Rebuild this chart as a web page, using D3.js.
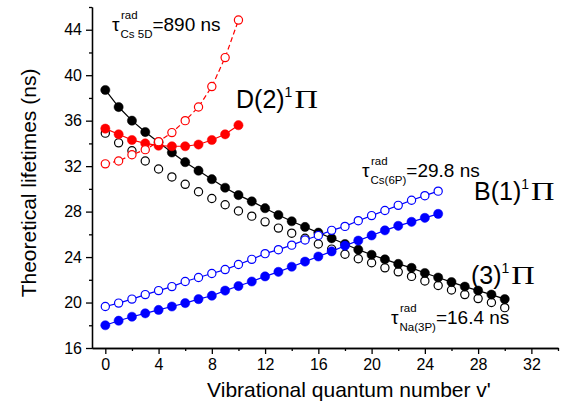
<!DOCTYPE html>
<html>
<head>
<meta charset="utf-8">
<script src="https://cdn.jsdelivr.net/npm/d3@7"></script>
<style>
  body { margin: 0; background: #fff; }
  svg { display: block; font-family: "Liberation Sans", Arial, sans-serif; }
  .axis path, .axis line { stroke: #000; stroke-width: 1.3; }
  .axis text { font-size: 16px; fill: #000; font-family: "Liberation Sans", Arial, sans-serif; }
</style>
</head>
<body>
<div id="chart"></div>
<script>
// (3)1Pi state, filled = this work, open = other
const pi3Filled = [38.7, 37.2, 36.0, 35.0, 34.1, 33.2, 32.35, 31.6, 30.85, 30.1, 29.45, 28.9, 28.3, 27.7, 27.15, 26.65,
	26.15, 25.65, 25.15, 24.65, 24.2, 23.8, 23.4, 23.05, 22.6, 22.2, 21.8, 21.4, 21.05, 20.7, 20.3];
const pi3Open = [34.9, 34.05, 33.35, 32.45, 31.75, 31.05, 30.4, 29.75, 29.15, 28.6, 28.05, 27.6, 27.1, 26.55, 26.1, 25.65,
	25.15, 24.7, 24.25, 23.85, 23.5, 23.05, 22.7, 22.3, 21.9, 21.5, 21.1, 20.7, 20.35, 20.0, 19.55];
// B(1)1Pi
const b1Filled = [18.0, 18.4, 18.75, 19.05, 19.35, 19.65, 19.95, 20.3, 20.6, 21.05, 21.45, 21.85, 22.3, 22.7, 23.15,
	23.6, 24.05, 24.5, 25.0, 25.45, 25.9, 26.35, 26.75, 27.1, 27.45, 27.8];
const b1Open = [19.65, 19.95, 20.3, 20.7, 21.05, 21.4, 21.85, 22.2, 22.55, 22.9, 23.35, 23.8, 24.3, 24.65, 25.05,
	25.5, 25.9, 26.35, 26.7, 27.2, 27.65, 28.1, 28.55, 29.0, 29.4, 29.8];
// D(2)1Pi
const d2Filled = [35.3, 34.8, 34.3, 34.0, 33.8, 33.75, 33.75, 33.9, 34.3, 34.8, 35.6];
const d2Open = [32.2, 32.45, 33.0, 33.45, 34.15, 34.95, 36.0, 37.2, 39.0, 41.55, 44.85];

const xTicks = [0, 4, 8, 12, 16, 20, 24, 28, 32];
const yTicks = [16, 20, 24, 28, 32, 36, 40, 44];

const W = 566, H = 413;
let margin = {top: 7, right: 8, bottom: 65, left: 92}
, width = W - margin.left - margin.right
, height = H - margin.top - margin.bottom;

let xScale = d3.scaleLinear().domain([-1, 34]).range([0, width]);
let yScale = d3.scaleLinear().domain([16, 46]).range([height, 0]);

let svg = d3.select("#chart").append("svg")
	.attr("width", W)
	.attr("height", H)
	.append("g")
	.attr("transform", "translate(" + margin.left + "," + margin.top + ")");

// axes: major ticks with labels, minor ticks without
svg.append("g")
	.attr("class", "x axis")
	.attr("transform", "translate(0," + height + ")")
	.call(d3.axisBottom(xScale).tickValues(d3.range(2, 35, 4)).tickSize(3).tickFormat("").tickSizeOuter(0));
svg.append("g")
	.attr("class", "x axis")
	.attr("transform", "translate(0," + height + ")")
	.call(d3.axisBottom(xScale).tickValues(xTicks).tickSize(6).tickPadding(5).tickSizeOuter(0));

svg.append("g")
	.attr("class", "y axis")
	.call(d3.axisLeft(yScale).tickValues(d3.range(18, 47, 4)).tickSize(3).tickFormat("").tickSizeOuter(0));
svg.append("g")
	.attr("class", "y axis")
	.call(d3.axisLeft(yScale).tickValues(yTicks).tickSize(6).tickPadding(4).tickSizeOuter(0));

// axis titles
svg.append("text")
	.attr("x", 349 - margin.left)
	.attr("y", 397 - margin.top)
	.attr("text-anchor", "middle")
	.style("font-size", "21px")
	.text("Vibrational quantum number v'");

svg.append("text")
	.attr("transform", "translate(" + (36 - margin.left) + "," + (183 - margin.top) + ") rotate(-90)")
	.attr("text-anchor", "middle")
	.style("font-size", "21px")
	.text("Theoretical lifetimes (ns)");

function toPoints(arr) {
	return arr.map((d, i) => ({x: i, y: d}));
}

let line = d3.line()
	.x(d => xScale(d.x))
	.y(d => yScale(d.y));

// draw one series: line (optional) + markers
function drawSeries(arr, color, filled, lineStyle) {
	let pts = toPoints(arr);
	if (lineStyle) {
		svg.append("path")
			.datum(pts)
			.attr("fill", "none")
			.attr("stroke", color)
			.attr("stroke-width", 1.2)
			.attr("stroke-dasharray", lineStyle === "dash" ? "5,3" : null)
			.attr("d", line);
	}
	svg.append("g").selectAll("circle")
		.data(pts)
		.enter().append("circle")
		.attr("cx", d => xScale(d.x))
		.attr("cy", d => yScale(d.y))
		.attr("r", filled ? 4.6 : 4.1)
		.attr("fill", filled ? color : "#fff")
		.attr("stroke", color)
		.attr("stroke-width", filled ? 0.5 : 1.2);
}

drawSeries(pi3Open, "#000", false, null);
drawSeries(pi3Filled, "#000", true, "solid");
drawSeries(b1Open, "#0000ff", false, "solid");
drawSeries(b1Filled, "#0000ff", true, "solid");
drawSeries(d2Filled, "#ff0000", true, "solid");
drawSeries(d2Open, "#ff0000", false, "dash");

// state labels: text, superscript 1, then a wide serif Pi
function stateLabel(x, y, main) {
	let g = svg.append("g").attr("transform", "translate(" + (x - margin.left) + "," + (y - margin.top) + ")");
	let t = g.append("text").style("font-size", "25px");
	t.append("tspan").text(main);
	t.append("tspan").attr("dy", -11).style("font-size", "14px").text("1");
	let w = t.node().getComputedTextLength();
	g.append("text")
		.attr("transform", "translate(" + (w + 2) + ",0) scale(1.25,1)")
		.style("font-family", "'Liberation Serif', 'Times New Roman', serif")
		.style("font-size", "26px").text("\u03A0");
}
stateLabel(236, 108, "D(2)");
stateLabel(474, 200, "B(1)");
stateLabel(471, 284, "(3)");

// tau annotations: tau with stacked superscript/subscript
function tauLabel(x, y, sub, rest) {
	let g = svg.append("g").attr("transform", "translate(" + (x - margin.left) + "," + (y - margin.top) + ")");
	g.append("text").style("font-size", "19px").text("\u03C4");
	let s = g.append("text").attr("x", 8.5).attr("y", 7).style("font-size", "11.5px").text(sub);
	g.append("text").attr("x", 9).attr("y", -12).style("font-size", "11.5px").text("rad");
	let w = s.node().getComputedTextLength();
	g.append("text").attr("x", 8.5 + w).style("font-size", "19px").text(rest);
}
tauLabel(112, 31, "Cs 5D", "=890 ns");
tauLabel(362, 177, "Cs(6P)", "=29.8 ns");
tauLabel(391, 324, "Na(3P)", "=16.4 ns");
</script>
</body>
</html>
